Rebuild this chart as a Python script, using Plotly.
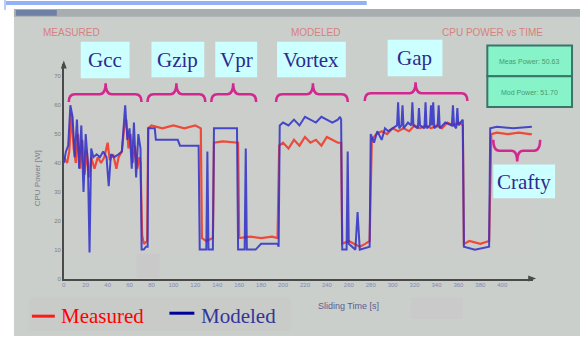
import plotly.graph_objects as go

W, H = 580, 339

# ---------------- data ----------------
benchmarks = ["Gcc", "Gzip", "Vpr", "Vortex", "Gap", "Crafty"]

meas_time = [0, 3, 5, 7, 9, 11, 13, 15, 17, 19, 21, 23, 25, 28, 31, 34, 37, 40, 42, 45,
             48, 50, 53, 55, 57, 59, 61, 63, 65, 67, 69, 70, 71.5, 73, 76,
             77, 80, 90, 100, 110, 120, 125, 126, 130, 136,
             137, 145, 155, 159, 160, 170, 180, 190, 195,
             196.5, 200, 205, 210, 215, 220, 225, 230, 235, 240, 245, 250, 253, 254, 260, 270, 275, 279,
             281, 285, 290, 295, 300, 305, 310, 315, 320, 325, 330, 335, 340, 345, 350, 355, 360, 364,
             365, 370, 380, 388,
             390, 395, 405, 415, 425, 427]
meas_power = [42, 40, 44, 57, 45, 40, 50, 38, 48, 36, 44, 35, 42, 38, 42, 40, 42, 47, 41, 43,
              38, 42, 44, 52, 55, 45, 50, 40, 46, 38, 42, 40, 15, 12, 13,
              52, 53, 52, 53, 52, 53, 52, 14, 13, 14,
              47, 47.5, 47, 47, 14, 14.5, 14, 14.5, 14,
              46, 47, 45, 48, 46, 49, 47, 48, 46, 49, 48, 47, 47, 12, 13, 11, 12, 13,
              48, 50, 51, 50, 52, 51, 52, 51, 53, 52, 53, 52, 53, 52, 54, 53, 54, 53,
              12, 13, 12, 13,
              50, 50.5, 50, 50.5, 50, 50]

model_time = [0, 2, 4, 6, 8, 10, 12, 14, 16, 18, 20, 22, 23.5, 25, 27, 30, 33, 36, 39, 41,
              43, 46, 50, 53, 56, 58, 60, 62, 64, 66, 68, 70, 71, 73, 75,
              76.5, 77, 83, 84, 104, 106, 123, 124, 130, 131, 132, 136,
              137, 158, 159, 165, 166, 167, 175, 180, 195,
              196, 197, 200, 205, 210, 215, 220, 225, 230, 235, 240, 245, 250, 252, 253,
              254, 258, 259, 260, 266, 268, 270, 279,
              280, 283, 286, 290, 293, 296, 300, 304, 305, 306, 308, 309, 310, 314, 317, 318,
              319, 323, 324, 325, 329, 330, 331, 334, 335, 336, 337, 338, 341, 342, 343, 348,
              354, 355, 356, 358, 359, 360, 364, 365, 375, 388,
              389, 395, 410, 427]
model_power = [40, 44, 46, 60, 56, 42, 55, 38, 53, 30, 50, 40, 9, 45, 42, 43, 42, 44, 42, 32,
               43, 42, 43, 44, 60, 48, 52, 38, 54, 35, 50, 45, 10, 10, 11,
               11, 52, 52, 48, 48, 46, 46, 10, 10, 44, 10, 10,
               52, 52, 10, 10, 45, 10, 10, 12, 12,
               11, 53, 54, 53, 55, 53, 56, 55, 54, 56, 55, 54, 55, 56, 55,
               10, 10, 44, 12, 10, 23, 10, 11,
               50, 47, 51, 48, 52, 51, 52, 53, 61, 52, 53, 60, 52, 54, 53, 61,
               53, 52, 59, 53, 52, 61, 52, 53, 60, 53, 61, 52, 53, 60, 52, 54,
               53, 60, 53, 52, 59, 53, 55, 11, 10, 11,
               52, 52.5, 52, 52.5]

x_ticks = list(range(0, 401, 20))
y_ticks = [0, 10, 20, 30, 40, 50, 60, 70]

# ---------------- helpers (pixel -> paper) ----------------
def fx(x):
    return x / W

def fy(y):
    return 1 - y / H

X0, X1 = 62, 533
Y0, Y1 = 281, 65
PX_PER_S = 1.1
PX_PER_W = (281 - 77) / 70.0

fig = go.Figure()
fig.add_trace(go.Scatter(x=meas_time, y=meas_power, mode="lines", name="Measured",
                         line=dict(color="#ee4a3a", width=2.2), showlegend=False))
fig.add_trace(go.Scatter(x=model_time, y=model_power, mode="lines", name="Modeled",
                         line=dict(color="#3434c8", width=2.0), opacity=0.88, showlegend=False))

shapes = []
# background panel
shapes.append(dict(type="rect", xref="paper", yref="paper", x0=fx(12), x1=fx(580), y0=fy(339), y1=fy(9),
                   fillcolor="#cbcfcb", line=dict(width=0), layer="below"))
# window title bar
shapes.append(dict(type="rect", xref="paper", yref="paper", x0=fx(12), x1=fx(580), y0=fy(17), y1=fy(9),
                   fillcolor="#a8adb0", line=dict(width=0), layer="below"))
shapes.append(dict(type="rect", xref="paper", yref="paper", x0=fx(14), x1=fx(55), y0=fy(16), y1=fy(10),
                   fillcolor="#6f7fa6", line=dict(width=0), layer="below"))
# top blue line
shapes.append(dict(type="rect", xref="paper", yref="paper", x0=fx(2), x1=fx(366), y0=fy(5), y1=fy(1),
                   fillcolor="#93b1f4", line=dict(width=0), layer="below"))
shapes.append(dict(type="rect", xref="paper", yref="paper", x0=fx(2), x1=fx(4), y0=fy(10), y1=fy(0),
                   fillcolor="#b9cbf6", line=dict(width=0), layer="below"))
# legend area background
shapes.append(dict(type="rect", xref="paper", yref="paper", x0=fx(27), x1=fx(290), y0=fy(334), y1=fy(300),
                   fillcolor="#c9cbc9", line=dict(width=0), layer="below"))
# gray patches
shapes.append(dict(type="rect", xref="paper", yref="paper", x0=fx(135), x1=fx(158), y0=fy(280), y1=fy(256),
                   fillcolor="#c9c9c9", line=dict(width=0)))
shapes.append(dict(type="rect", xref="paper", yref="paper", x0=fx(410), x1=fx(462), y0=fy(322), y1=fy(300),
                   fillcolor="#cacaca", line=dict(width=0)))
# teal info boxes
for (ya, yb) in [(46, 77), (77, 108)]:
    shapes.append(dict(type="rect", xref="paper", yref="paper", x0=fx(487), x1=fx(572), y0=fy(yb), y1=fy(ya),
                       fillcolor="#86f3c8", line=dict(color="#3a756a", width=2)))
# axis arrow heads
shapes.append(dict(type="path", xref="paper", yref="paper",
                   path=f"M {fx(59)},{fy(69)} L {fx(62)},{fy(61)} L {fx(65)},{fy(69)} Z",
                   fillcolor="#4a4a4a", line=dict(width=0)))
shapes.append(dict(type="path", xref="paper", yref="paper",
                   path=f"M {fx(528)},{fy(278)} L {fx(536)},{fy(281)} L {fx(528)},{fy(284)} Z",
                   fillcolor="#4a4a4a", line=dict(width=0)))

# benchmark label boxes
label_boxes = [(79, 128, 42, 79), (150, 203, 42, 78), (214, 256, 42, 78),
               (276, 345, 42, 78), (387, 442, 40, 77), (493, 555, 166, 200)]
for (a, b, c, d) in label_boxes:
    shapes.append(dict(type="rect", xref="paper", yref="paper", x0=fx(a), x1=fx(b), y0=fy(d), y1=fy(c),
                       fillcolor="#ccffff", line=dict(width=0)))

# braces
def brace(xa, xb, xc, y_end, y_bar, y_peak):
    r = 6
    p = (f"M {fx(xa)},{fy(y_end)} Q {fx(xa)},{fy(y_bar)} {fx(xa + r)},{fy(y_bar)} "
         f"L {fx(xc - r)},{fy(y_bar)} Q {fx(xc)},{fy(y_bar)} {fx(xc)},{fy(y_peak)} "
         f"Q {fx(xc)},{fy(y_bar)} {fx(xc + r)},{fy(y_bar)} "
         f"L {fx(xb - r)},{fy(y_bar)} Q {fx(xb)},{fy(y_bar)} {fx(xb)},{fy(y_end)}")
    return dict(type="path", xref="paper", yref="paper", path=p,
                line=dict(color="#d3288f", width=2.5))

shapes.append(brace(67, 140, 104, 103, 95, 84))
shapes.append(brace(146, 204, 175, 103, 95, 84))
shapes.append(brace(210, 255, 232, 103, 95, 84))
shapes.append(brace(275, 347, 312, 103, 95, 84))
shapes.append(brace(364, 467, 415, 102, 94, 83))
shapes.append(brace(493, 540, 517, 141, 152, 163))

# legend lines
shapes.append(dict(type="line", xref="paper", yref="paper", x0=fx(30), x1=fx(53), y0=fy(319), y1=fy(319),
                   line=dict(color="#ff1a1a", width=3)))
shapes.append(dict(type="line", xref="paper", yref="paper", x0=fx(168), x1=fx(193), y0=fy(316), y1=fy(316),
                   line=dict(color="#000099", width=3)))

annotations = []
serif = "Liberation Serif"
label_centres = [(103, 61), (176, 61), (235, 61), (310, 61), (414, 59), (524, 184)]
for name, (cx, cy) in zip(benchmarks, label_centres):
    annotations.append(dict(text=name, x=fx(cx), y=fy(cy), xref="paper", yref="paper", showarrow=False,
                            xanchor="center", yanchor="middle",
                            font=dict(family=serif, size=21, color="#2b2b8e")))

for txt, cx in [("MEASURED", 70), ("MODELED", 315), ("CPU POWER vs TIME", 492)]:
    annotations.append(dict(text=txt, x=fx(cx), y=fy(33), xref="paper", yref="paper", showarrow=False,
                            xanchor="center", yanchor="middle",
                            font=dict(family="Liberation Sans", size=10, color="#d98080")))

for txt, cy in [("Meas Power: 50.63", 62), ("Mod Power: 51.70", 93)]:
    annotations.append(dict(text=txt, x=fx(529), y=fy(cy), xref="paper", yref="paper", showarrow=False,
                            xanchor="center", yanchor="middle",
                            font=dict(family="Liberation Sans", size=7, color="#4a9a70")))

annotations.append(dict(text="CPU Power [W]", x=fx(36), y=fy(180), xref="paper", yref="paper",
                        showarrow=False, textangle=-90, xanchor="center", yanchor="middle",
                        font=dict(family="Liberation Sans", size=8, color="#7a7e8a")))
annotations.append(dict(text="Sliding Time [s]", x=fx(348), y=fy(309), xref="paper", yref="paper",
                        showarrow=False, xanchor="center", yanchor="middle",
                        font=dict(family="Liberation Sans", size=9, color="#5c5c92")))
annotations.append(dict(text="Measured", x=fx(57), y=fy(319), xref="paper", yref="paper", showarrow=False,
                        xanchor="left", yanchor="middle", font=dict(family=serif, size=21, color="#ff0000")))
annotations.append(dict(text="Modeled", x=fx(198), y=fy(319), xref="paper", yref="paper", showarrow=False,
                        xanchor="left", yanchor="middle", font=dict(family=serif, size=21, color="#34349a")))

x_max = (X1 - X0) / PX_PER_S
y_max = (Y0 - Y1) / PX_PER_W

fig.update_layout(
    width=W, height=H,
    margin=dict(l=0, r=0, t=0, b=0),
    paper_bgcolor="white",
    plot_bgcolor="#ced2ce",
    shapes=shapes,
    annotations=annotations,
    xaxis=dict(domain=[fx(X0), fx(X1)], range=[0, x_max], showgrid=False, zeroline=False,
               showline=True, linecolor="#4a4a4a", linewidth=1.5,
               tickmode="array", tickvals=x_ticks, ticktext=[str(v) for v in x_ticks],
               ticks="", tickfont=dict(family="Liberation Sans", size=6, color="#8088b0")),
    yaxis=dict(domain=[fy(Y0), fy(Y1)], range=[0, y_max], showgrid=False, zeroline=False,
               showline=True, linecolor="#4a4a4a", linewidth=1.5,
               tickmode="array", tickvals=y_ticks, ticktext=[str(v) for v in y_ticks],
               ticks="", tickfont=dict(family="Liberation Sans", size=6, color="#7a7e80")),
)

fig.write_html("out.html", config={"displayModeBar": False},
               post_script="document.body.style.margin='0px';document.body.style.overflow='hidden';")
